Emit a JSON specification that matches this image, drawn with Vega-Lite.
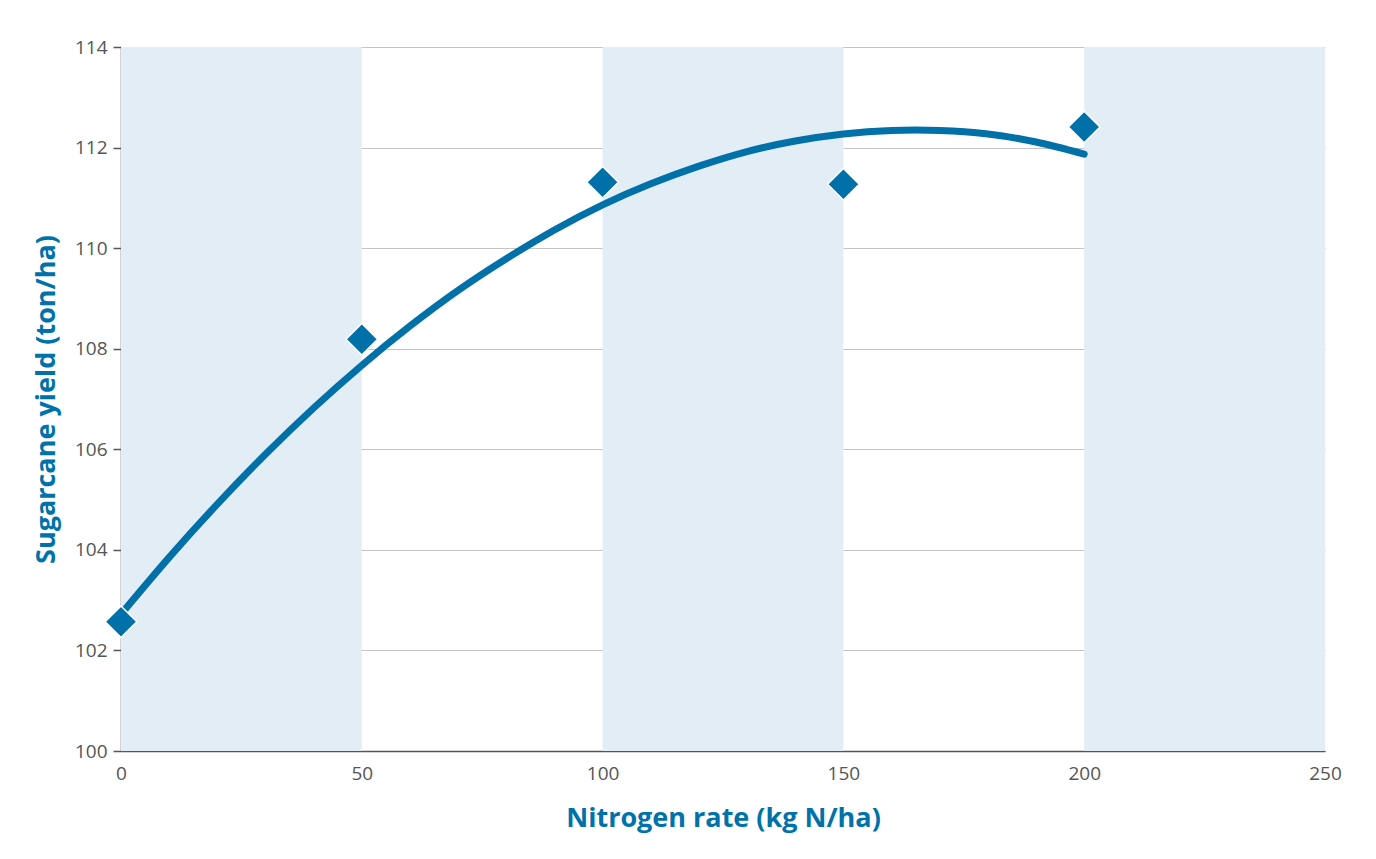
{
  "$schema": "https://vega.github.io/schema/vega-lite/v6.json",
  "width": 1204,
  "height": 704,
  "autosize": {"type": "none"},
  "padding": {"left": 121, "top": 47, "right": 51, "bottom": 108},
  "background": "white",
  "config": {
    "view": {"stroke": null},
    "font": "Open Sans",
    "axis": {
      "labelFont": "Open Sans",
      "labelFontSize": 19,
      "labelColor": "#555555",
      "titleFont": "Open Sans",
      "titleFontSize": 27,
      "titleFontWeight": "bold",
      "titleColor": "#0072aa",
      "domainColor": "#555555",
      "domainWidth": 1.5,
      "gridColor": "#c4c4c4",
      "gridWidth": 1
    }
  },
  "datasets": {
    "bands": [
      {"start": 0, "end": 50},
      {"start": 100, "end": 150},
      {"start": 200, "end": 250}
    ],
    "points": [
      {"rate": 0, "yield": 102.57},
      {"rate": 50, "yield": 108.19},
      {"rate": 100, "yield": 111.31},
      {"rate": 150, "yield": 111.27},
      {"rate": 200, "yield": 112.41}
    ],
    "fit": [
      {"rate": 0, "yield": 102.72},
      {"rate": 10, "yield": 103.85},
      {"rate": 20, "yield": 104.91},
      {"rate": 30, "yield": 105.9},
      {"rate": 40, "yield": 106.82},
      {"rate": 50, "yield": 107.67},
      {"rate": 60, "yield": 108.45},
      {"rate": 70, "yield": 109.16},
      {"rate": 80, "yield": 109.79},
      {"rate": 90, "yield": 110.36},
      {"rate": 100, "yield": 110.86},
      {"rate": 110, "yield": 111.28},
      {"rate": 120, "yield": 111.63},
      {"rate": 130, "yield": 111.92},
      {"rate": 140, "yield": 112.13},
      {"rate": 150, "yield": 112.27},
      {"rate": 160, "yield": 112.34},
      {"rate": 170, "yield": 112.34},
      {"rate": 180, "yield": 112.27},
      {"rate": 190, "yield": 112.11},
      {"rate": 200, "yield": 111.87}
    ]
  },
  "layer": [
    {
      "data": {"name": "bands"},
      "mark": {"type": "rect", "color": "#e3edf6"},
      "encoding": {
        "x": {"field": "start", "type": "quantitative", "scale": {"domain": [0, 250], "nice": false, "zero": false},
          "axis": {"title": "Nitrogen rate (kg N/ha)", "values": [0, 50, 100, 150, 200, 250], "grid": false, "ticks": false, "labelFlush": false, "labelPadding": 13, "titlePadding": 22}},
        "x2": {"field": "end"},
        "y": {"datum": 100, "type": "quantitative", "scale": {"domain": [100, 114], "nice": false, "zero": false},
          "axis": {"title": "Sugarcane yield (ton/ha)", "values": [100, 102, 104, 106, 108, 110, 112, 114], "grid": true, "tickSize": 8, "tickColor": "#555555", "tickWidth": 1.5, "labelPadding": 6, "titlePadding": 14}},
        "y2": {"datum": 114}
      }
    },
    {
      "data": {"name": "fit"},
      "mark": {"type": "line", "color": "#0070a8", "strokeWidth": 7, "strokeCap": "round", "interpolate": "natural"},
      "encoding": {
        "x": {"field": "rate", "type": "quantitative"},
        "y": {"field": "yield", "type": "quantitative"}
      }
    },
    {
      "data": {"name": "points"},
      "mark": {"type": "point", "shape": "diamond", "filled": true, "size": 1000, "color": "#0070a8", "stroke": "white", "strokeWidth": 1.5, "opacity": 1},
      "encoding": {
        "x": {"field": "rate", "type": "quantitative"},
        "y": {"field": "yield", "type": "quantitative"}
      }
    }
  ]
}
